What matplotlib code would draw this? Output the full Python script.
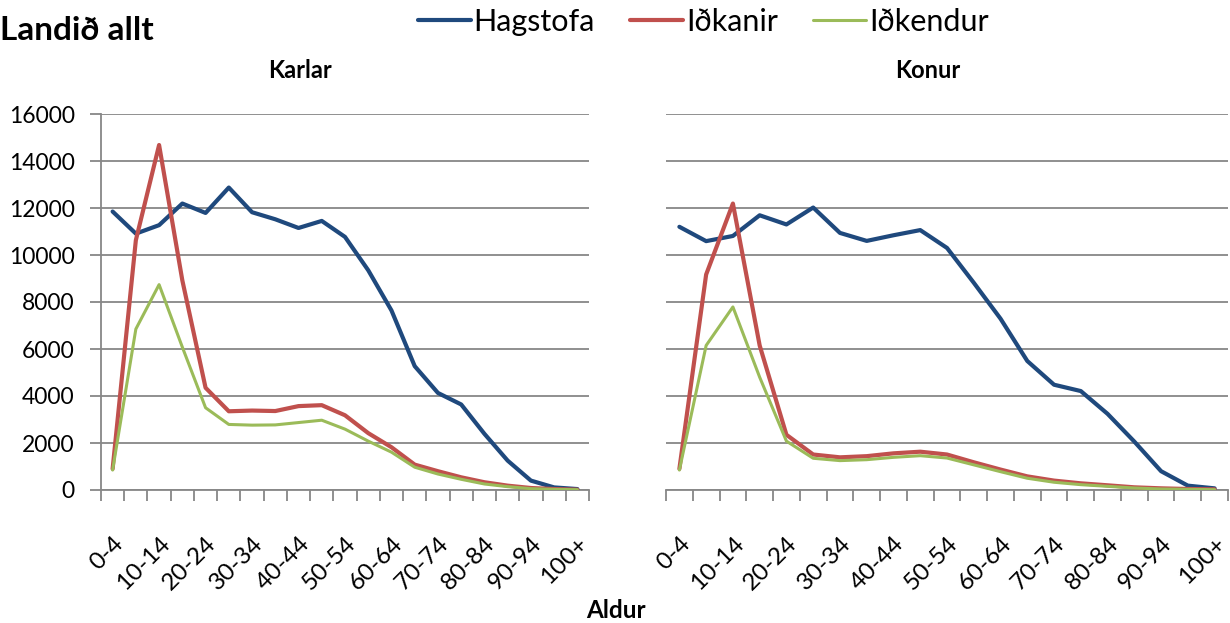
import matplotlib
matplotlib.use("Agg")
import matplotlib.pyplot as plt
import matplotlib.transforms as mtransforms
import numpy as np

plt.rcParams['font.family'] = ['Lato', 'DejaVu Sans']

categories = ['0-4', '5-9', '10-14', '15-19', '20-24', '25-29', '30-34', '35-39',
              '40-44', '45-49', '50-54', '55-59', '60-64', '65-69', '70-74',
              '75-79', '80-84', '85-89', '90-94', '95-99', '100+']

karlar_hagstofa = [11850, 10910, 11270, 12190, 11790, 12870, 11820, 11520, 11150,
                   11450, 10770, 9350, 7640, 5270, 4130, 3640, 2390, 1250, 400, 110, 40]
karlar_idkanir = [900, 10630, 14680, 8920, 4350, 3350, 3380, 3360, 3570, 3610, 3180,
                  2420, 1820, 1080, 800, 540, 330, 185, 85, 40, 14]
karlar_idkendur = [850, 6850, 8740, 6080, 3500, 2790, 2760, 2770, 2870, 2970, 2590,
                   2080, 1610, 970, 680, 455, 256, 142, 57, 28, 14]

konur_hagstofa = [11200, 10590, 10810, 11690, 11300, 12020, 10940, 10600, 10840,
                  11060, 10300, 8820, 7290, 5490, 4480, 4210, 3240, 2060, 800, 185, 70]
konur_idkanir = [900, 9170, 12190, 6150, 2350, 1510, 1390, 1440, 1560, 1630, 1510,
                 1180, 870, 580, 400, 284, 200, 114, 71, 43, 28]
konur_idkendur = [850, 6150, 7790, 4800, 2080, 1350, 1250, 1290, 1390, 1460, 1360,
                  1070, 780, 500, 330, 227, 156, 85, 43, 28, 14]

series_names = ['Hagstofa', 'Iðkanir', 'Iðkendur']
colors = ['#1F497D', '#C0504D', '#9BBB59']
widths = [3.0, 3.0, 2.2]
yticks = [0, 2000, 4000, 6000, 8000, 10000, 12000, 14000, 16000]

fig = plt.figure(figsize=(12.3, 6.23), dpi=100)
ax1 = fig.add_axes([101/1230, 133/623, 488/1230, 376/623])
ax2 = fig.add_axes([666/1230, 133/623, 562/1230, 376/623])

x = np.arange(len(categories))
grid_color = '#878787'
shift = mtransforms.ScaledTranslation(4/100, 0, fig.dpi_scale_trans)

for ax, data, show_y in [
        (ax1, [karlar_hagstofa, karlar_idkanir, karlar_idkendur], True),
        (ax2, [konur_hagstofa, konur_idkanir, konur_idkendur], False)]:
    lines = []
    for vals, name, c, lw in zip(data, series_names, colors, widths):
        ln, = ax.plot(x, vals, color=c, lw=lw, label=name, solid_joinstyle='round',
                      solid_capstyle='round', zorder=3)
        lines.append(ln)
    ax.set_xlim(-0.5, len(categories) - 0.5)
    ax.set_ylim(0, 16000)
    ax.set_yticks(yticks)
    ax.yaxis.grid(True, color=grid_color, lw=1.3)
    ax.set_axisbelow(True)
    for s in ['top', 'right']:
        ax.spines[s].set_visible(False)
    ax.spines['bottom'].set_color(grid_color)
    ax.spines['bottom'].set_linewidth(1.3)
    if show_y:
        ax.spines['left'].set_color(grid_color)
        ax.spines['left'].set_linewidth(1.3)
        ax.tick_params(axis='y', length=8, width=1.3, color=grid_color,
                       labelsize=16.5, pad=11)
    else:
        ax.spines['left'].set_visible(False)
        ax.tick_params(axis='y', length=0, labelleft=False)
    ax.set_xticks(np.arange(-0.5, len(categories), 1.0), minor=True)
    ax.set_xticks(x[::2])
    ax.set_xticklabels(categories[::2], rotation=45, ha='right', va='top',
                       rotation_mode='anchor', fontsize=17.5)
    for lbl in ax.get_xticklabels():
        lbl.set_transform(lbl.get_transform() + shift)
    ax.tick_params(axis='x', which='major', length=0, pad=31)
    ax.tick_params(axis='x', which='minor', length=8, width=1.3, color=grid_color)

fig.text(300/1230, 1 - 70/623, 'Karlar', fontsize=17, fontweight='bold',
         ha='center', va='center')
fig.text(928/1230, 1 - 70/623, 'Konur', fontsize=17, fontweight='bold',
         ha='center', va='center')
fig.text(0.0, 1 - 30/623, 'Landið allt', fontsize=24, fontweight='bold',
         ha='left', va='center')
fig.text(616/1230, 1 - 610/623, 'Aldur', fontsize=17.5, fontweight='bold',
         ha='center', va='center')
fig.legend(lines, series_names, loc='center', bbox_to_anchor=(703/1230, 1 - 22/623),
           ncol=3, frameon=False, fontsize=22, handlelength=1.75, handletextpad=0.08,
           columnspacing=1.15, borderpad=0, borderaxespad=0)

fig.savefig('out.png', dpi=100)
